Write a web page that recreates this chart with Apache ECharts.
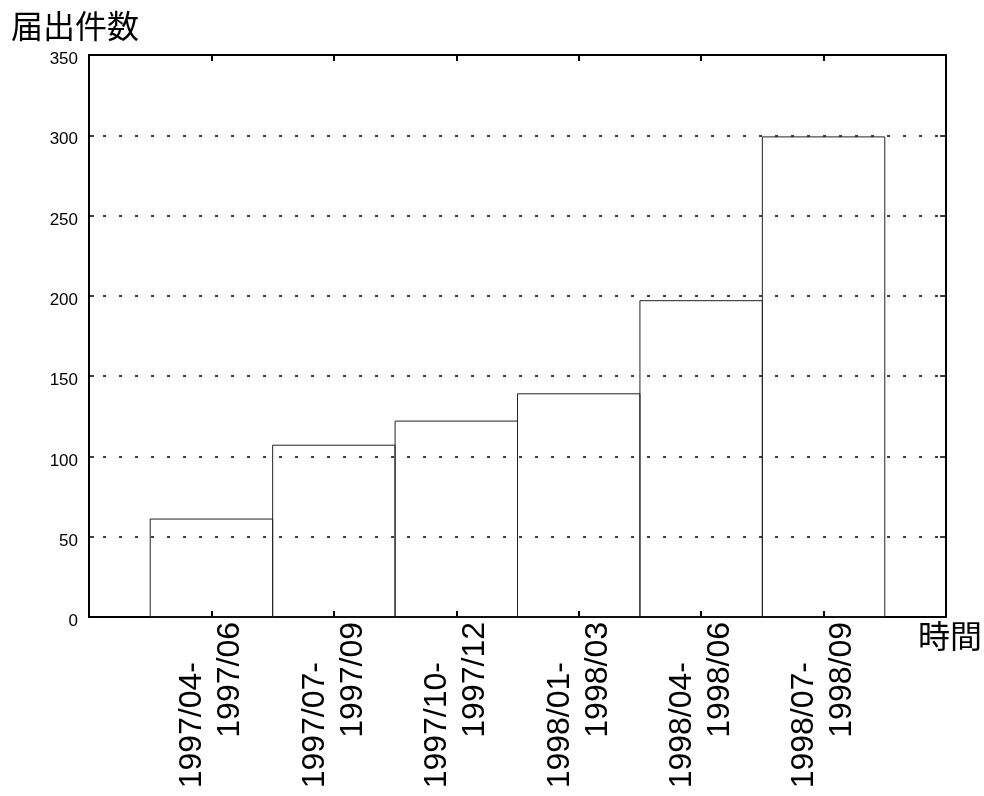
<!DOCTYPE html>
<html>
<head>
<meta charset="utf-8">
<script src="https://cdn.jsdelivr.net/npm/echarts@6/dist/echarts.min.js"></script>
<style>
html,body{margin:0;padding:0;background:#fff;}
#chart{width:984px;height:796px;}
</style>
</head>
<body>
<div id="chart"></div>
<script>
// Period start / end labels (two lines per category)
const periodStart = ['1997/04-', '1997/07-', '1997/10-', '1998/01-', '1998/04-', '1998/07-'];
const periodEnd   = ['1997/06',  '1997/09',  '1997/12',  '1998/03',  '1998/06',  '1998/09'];
// Number of filings per period
const counts = [61, 107, 122, 139, 197, 299];
const yTitle = '届出件数';
const xTitle = '時間';

const chart = echarts.init(document.getElementById('chart'), null, {renderer: 'canvas'});
const FONT = 'Liberation Sans, Arial, sans-serif';
const CJK = 'Noto Sans CJK JP, sans-serif';

const data = counts.map((v, i) => [i + 1, v]);

const option = {
  backgroundColor: '#fff',
  animation: false,
  grid: {left: 89, right: 38, top: 55, bottom: 179, containLabel: false},
  xAxis: [{
    type: 'value', position: 'bottom', min: 0, max: 7, interval: 1,
    axisLine: {show: true, onZero: false, lineStyle: {color: '#000', width: 2}},
    axisTick: {show: true, inside: true, length: 6, lineStyle: {color: '#000', width: 2}},
    splitLine: {show: false},
    axisLabel: {
      rotate: 90, margin: 5, color: '#000', fontFamily: FONT, fontSize: 32,
      formatter: function (v) {
        const i = Math.round(v) - 1;
        if (i < 0 || i >= periodStart.length) return '';
        return '{a|' + periodStart[i] + '}\n{b|' + periodEnd[i] + '}';
      },
      rich: {
        a: {fontFamily: FONT, fontSize: 32, color: '#000', align: 'right', padding: [0, 40, 0, 0], lineHeight: 38},
        b: {fontFamily: FONT, fontSize: 32, color: '#000', align: 'right', lineHeight: 38}
      }
    }
  }, {
    type: 'value', position: 'top', min: 0, max: 7, interval: 1,
    axisLine: {show: true, onZero: false, lineStyle: {color: '#000', width: 2}},
    axisTick: {show: true, inside: true, length: 6, lineStyle: {color: '#000', width: 2}},
    splitLine: {show: false},
    axisLabel: {show: false}
  }],
  yAxis: [{
    type: 'value', position: 'left', min: 0, max: 350, interval: 50,
    axisLine: {show: true, onZero: false, lineStyle: {color: '#000', width: 2}},
    axisTick: {show: true, inside: true, length: 5, lineStyle: {color: '#000', width: 1.5}},
    splitLine: {show: true, lineStyle: {color: '#000', width: 1.6, type: [3, 13], dashOffset: 2}},
    axisLabel: {
      color: '#000', fontFamily: FONT, fontSize: 17, margin: 11,
      formatter: function (v) { return '{v|' + v + '}'; },
      rich: {v: {fontFamily: FONT, fontSize: 17, color: '#000', padding: [9, 0, 0, 0]}}
    }
  }, {
    type: 'value', position: 'right', min: 0, max: 350, interval: 50,
    axisLine: {show: true, onZero: false, lineStyle: {color: '#000', width: 2}},
    axisTick: {show: true, inside: true, length: 6, lineStyle: {color: '#000', width: 1.5}},
    splitLine: {show: false},
    axisLabel: {show: false}
  }],
  graphic: [
    {type: 'text', x: 11, y: 26, z: 10,
     style: {text: yTitle, fontSize: 32, fontFamily: CJK, fill: '#000', align: 'left', verticalAlign: 'middle'}},
    {type: 'text', x: 918, y: 636, z: 10,
     style: {text: xTitle, fontSize: 32, fontFamily: CJK, fill: '#000', align: 'left', verticalAlign: 'middle'}}
  ],
  series: [{
    type: 'custom',
    xAxisIndex: 0, yAxisIndex: 0,
    data: data,
    renderItem: function (params, api) {
      const x = api.value(0), y = api.value(1);
      const p0 = api.coord([x - 0.5, y]);
      const p1 = api.coord([x + 0.5, 0]);
      return {
        type: 'rect',
        shape: {x: p0[0], y: p0[1], width: p1[0] - p0[0], height: p1[1] - p0[1]},
        style: {fill: 'none', stroke: '#222', lineWidth: 1}
      };
    }
  }]
};
chart.setOption(option);
</script>
</body>
</html>
